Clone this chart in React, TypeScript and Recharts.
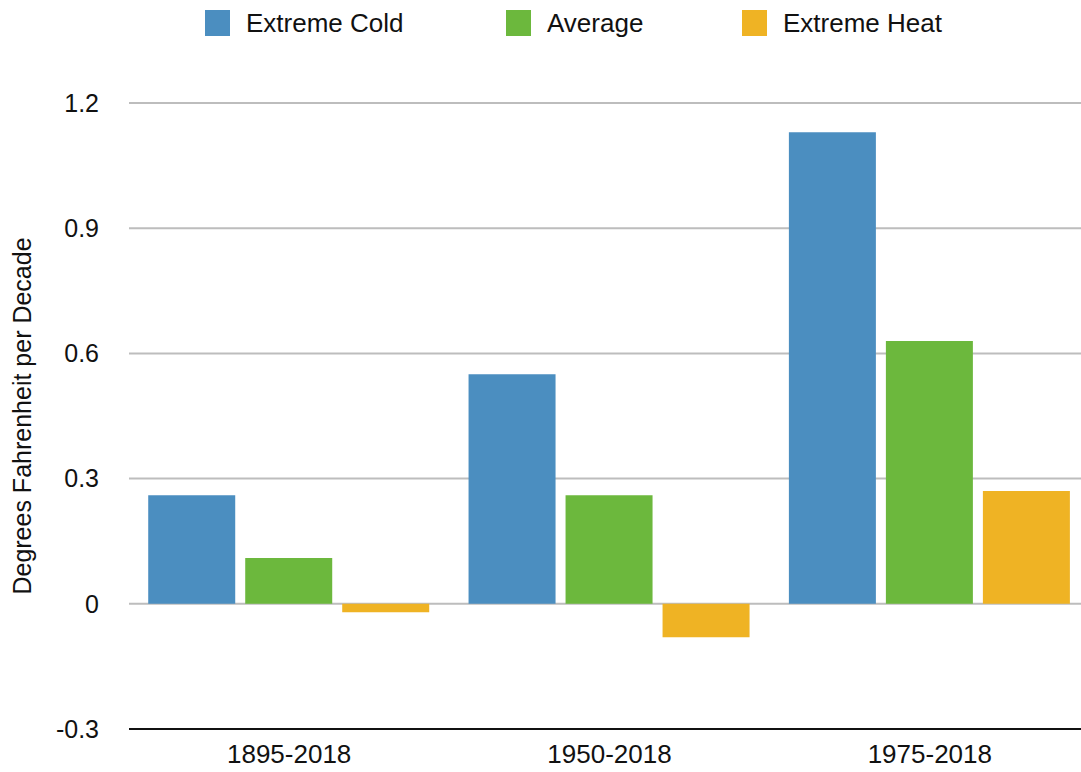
import { BarChart, Bar, XAxis, YAxis, CartesianGrid, Legend, Label } from "recharts";

const periods = ["1895-2018", "1950-2018", "1975-2018"];
const extremeCold = [0.26, 0.55, 1.13];
const average = [0.11, 0.26, 0.63];
const extremeHeat = [-0.02, -0.08, 0.27];
const yTicks = [-0.3, 0, 0.3, 0.6, 0.9, 1.2];

const series = [
  { key: "cold", name: "Extreme Cold", color: "#4b8ec0" },
  { key: "avg", name: "Average", color: "#6cb83d" },
  { key: "heat", name: "Extreme Heat", color: "#efb324" },
];

const data = periods.map((period, i) => ({
  period,
  cold: extremeCold[i],
  avg: average[i],
  heat: extremeHeat[i],
}));

const FONT = "'Liberation Sans', Arial, Helvetica, sans-serif";

function TopLegend() {
  return (
    <div style={{ height: 46, width: 1081, position: "relative", fontFamily: FONT }}>
      {series.map((s, i) => (
        <div
          key={s.key}
          style={{
            position: "absolute",
            left: [205, 506, 742][i],
            top: 10,
            display: "flex",
            alignItems: "center",
            fontSize: 26,
            color: "#111",
            lineHeight: "26px",
          }}
        >
          <span style={{ width: 25, height: 26, background: s.color, display: "inline-block", marginRight: 16 }} />
          {s.name}
        </div>
      ))}
    </div>
  );
}

function fmt(v: number) {
  return v === 0 ? "0" : v.toFixed(1);
}

export default function App() {
  // the plot runs a few pixels past the right edge and is clipped there
  return (
    <div style={{ position: "absolute", left: 0, top: 0, width: 1081, height: 772, overflow: "hidden", background: "#fff" }}>
      <BarChart
        width={1090}
        height={772}
        data={data}
        margin={{ top: 57, right: 0, bottom: 13, left: 0 }}
        barCategoryGap="6%"
        barGap={10}
      >
        <CartesianGrid vertical={false} stroke="#bdbdbd" strokeWidth={2} />
        <XAxis
          dataKey="period"
          axisLine={{ stroke: "#111", strokeWidth: 2 }}
          tickLine={false}
          tickMargin={10}
          tick={{ fontSize: 26, fill: "#111", fontFamily: FONT }}
        />
        <YAxis
          width={129}
          domain={[-0.3, 1.2]}
          ticks={yTicks}
          tickFormatter={fmt}
          axisLine={false}
          tickLine={false}
          tickMargin={24}
          tick={{ fontSize: 25, fill: "#111", fontFamily: FONT }}
        >
          <Label
            content={({ viewBox }: any) => {
              const cy = viewBox.y + viewBox.height / 2;
              return (
                <text
                  x={31}
                  y={cy}
                  transform={`rotate(-90 31 ${cy})`}
                  textAnchor="middle"
                  fontSize={25}
                  fill="#111"
                  fontFamily={FONT}
                >
                  Degrees Fahrenheit per Decade
                </text>
              );
            }}
          />
        </YAxis>
        <Legend verticalAlign="top" wrapperStyle={{ top: 0, left: 0 }} content={() => <TopLegend />} />
        {series.map((s) => (
          <Bar key={s.key} dataKey={s.key} name={s.name} fill={s.color} isAnimationActive={false} />
        ))}
      </BarChart>
    </div>
  );
}
